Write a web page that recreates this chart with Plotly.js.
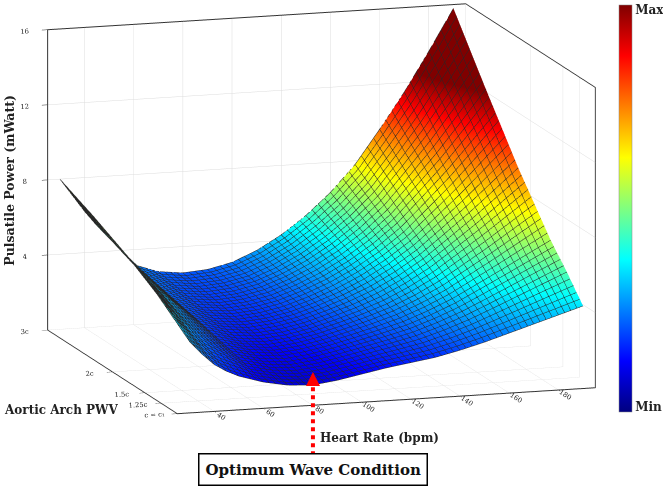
<!DOCTYPE html>
<html>
<head>
<meta charset="utf-8">
<script src="https://cdn.plot.ly/plotly-3.0.1.min.js"></script>
<style>html,body{margin:0;padding:0;background:#fff;}#chart{width:663px;height:498px;}#err{position:absolute;top:0;left:0;font:10px monospace;color:#c00;}</style>
</head>
<body>
<div id="chart"></div>
<div id="err"></div>
<script>
window.onerror = function(m){ document.getElementById('err').textContent += ' ERR: ' + m; };
// Heart rate (bpm)
const heartRate = [30,35,40,45,50,55,60,70,80,90,100,110,120,130,140,150,160,170,180,190];
// Aortic arch PWV (multiples of c)
const pwv = [1,1.25,1.5,2,2.5,3];
const pwvTickVals = [1,1.25,1.5,2,3];
const pwvTickText = ['c = c\u2081','1.25c','1.5c','2c','3c'];
const hrTickVals = [40,60,80,100,120,140,160,180];
const powerTickVals = [4,8,12,16];
// Pulsatile power (mWatt), one row per PWV value
const power_c100 = [3.8,3.1,2.5,2.1,1.8,1.6,1.4,1.15,1.08,1.25,1.5,1.75,1.95,2.15,2.45,2.8,3.2,3.6,4.0,4.4];
const power_c125 = [4.5,3.8,3.1,2.6,2.3,2.0,1.7,1.4,1.31,1.46,1.72,2.0,2.27,2.56,2.96,3.43,3.97,4.53,5.09,5.65];
const power_c150 = [5.2,4.4,3.7,3.15,2.7,2.33,1.95,1.63,1.52,1.66,1.92,2.24,2.57,2.94,3.43,4.0,4.69,5.38,6.09,6.79];
const power_c200 = [6.3,5.5,4.7,4.0,3.5,2.96,2.43,2.05,1.92,2.04,2.3,2.7,3.16,3.72,4.41,5.24,6.26,7.3,8.41,9.53];
const power_c250 = [7.2,6.3,5.5,4.75,4.1,3.47,2.83,2.41,2.27,2.38,2.66,3.13,3.73,4.49,5.4,6.51,7.92,9.37,10.97,12.61];
const power_c300 = [8.0,7.1,6.2,5.4,4.7,3.95,3.2,2.75,2.6,2.7,3.0,3.55,4.3,5.25,6.4,7.8,9.6,11.5,13.6,15.8];
const powerRows = [power_c100,power_c125,power_c150,power_c200,power_c250,power_c300];

const jet = [[0,'rgb(0,0,128)'],[0.125,'rgb(0,0,255)'],[0.375,'rgb(0,255,255)'],[0.625,'rgb(255,255,0)'],[0.875,'rgb(255,0,0)'],[1,'rgb(128,0,0)']];
const serif = 'DejaVu Serif, serif';
const tickFont = {family: serif, size: 9, color: '#222'};

const trace = {
  type: 'surface',
  x: heartRate, y: pwv, z: powerRows,
  colorscale: jet, cmin: 0, cmax: 12.5,
  lighting: {ambient: 1, diffuse: 0, specular: 0, roughness: 1, fresnel: 0},
  contours: {
    x: {show: true, start: 30, end: 190, size: 2.5, color: 'rgba(0,0,0,0.85)', width: 1, highlight: false},
    y: {show: true, start: 1, end: 3, size: 0.05, color: 'rgba(0,0,0,0.85)', width: 1, highlight: false},
    z: {highlight: false}
  },
  hoverinfo: 'skip',
  colorbar: {
    x: 0.918, xanchor: 'left', y: 0.581, yanchor: 'middle',
    len: 427, lenmode: 'pixels', thickness: 13, thicknessmode: 'pixels',
    outlinewidth: 0.5, outlinecolor: '#888',
    tickvals: [0.15, 12.35], ticktext: ['Min', 'Max'], ticks: '',
    ticklabeloverflow: 'allow',
    tickfont: {family: serif, size: 12, color: '#222', weight: 'bold'}
  }
};

function axis(extra) {
  return Object.assign({
    showbackground: true, backgroundcolor: '#ffffff',
    gridcolor: '#dcdcdc', gridwidth: 1,
    showline: true, linecolor: '#333', linewidth: 2, mirror: true,
    zeroline: false, showspikes: false,
    ticks: 'outside', ticklen: 6, tickcolor: '#333',
    tickfont: tickFont, title: {text: ''}
  }, extra);
}

const layout = {
  width: 663, height: 498,
  margin: {l: 0, r: 0, t: 0, b: 0, autoexpand: false},
  paper_bgcolor: '#fff',
  showlegend: false,
  scene: {
    domain: {x: [0, 0.97], y: [0, 1]},
    aspectmode: 'manual', aspectratio: {x: 1.758, y: 1.758, z: 1.231},
    camera: {projection: {type: 'orthographic'},
             eye: {x: -0.58, y: -1.87, z: 0.235},
             center: {x: 0, y: 0, z: -0.165},
             up: {x: 0, y: 0, z: 1}},
    xaxis: axis({range: [25, 195], tickvals: hrTickVals}),
    yaxis: axis({range: [1, 3], tickvals: pwvTickVals, ticktext: pwvTickText}),
    zaxis: axis({range: [0, 16], tickvals: powerTickVals})
  },
  shapes: [
    {type: 'line', xref: 'paper', yref: 'paper', x0: 0.472, x1: 0.472, y0: 0.086, y1: 0.226,
     line: {color: 'red', width: 4, dash: 'dot'}},
    {type: 'path', xref: 'paper', yref: 'paper', path: 'M 0.4615 0.225 L 0.4827 0.225 L 0.472 0.253 Z',
     fillcolor: 'red', line: {color: 'red', width: 0}}
  ],
  annotations: [
    {text: 'Pulsatile Power (mWatt)', xref: 'paper', yref: 'paper', x: 0.015, y: 0.639, textangle: -90,
     xanchor: 'center', yanchor: 'middle',
     showarrow: false, font: {family: serif, size: 12.5, color: '#222', weight: 'bold'}},
    {text: 'Aortic Arch PWV', xref: 'paper', yref: 'paper', x: 0.003, xanchor: 'left', y: 0.177, yanchor: 'middle',
     showarrow: false, font: {family: serif, size: 12, color: '#222', weight: 'bold'}},
    {text: 'Heart Rate (bpm)', xref: 'paper', yref: 'paper', x: 0.479, xanchor: 'left', y: 0.120, yanchor: 'middle',
     showarrow: false, font: {family: serif, size: 12, color: '#222', weight: 'bold'}},
    {text: 'Optimum Wave Condition', xref: 'paper', yref: 'paper', x: 0.472, y: 0.058,
     xanchor: 'center', yanchor: 'middle',
     showarrow: false, bordercolor: '#000', borderwidth: 1.5, borderpad: 6, bgcolor: '#fff',
     font: {family: serif, size: 15, color: '#111', weight: 'bold'}}
  ]
};

Plotly.newPlot('chart', [trace], layout, {displayModeBar: false}).catch(function(e){ document.getElementById('err').textContent += ' P: ' + e; });
</script>
</body>
</html>
